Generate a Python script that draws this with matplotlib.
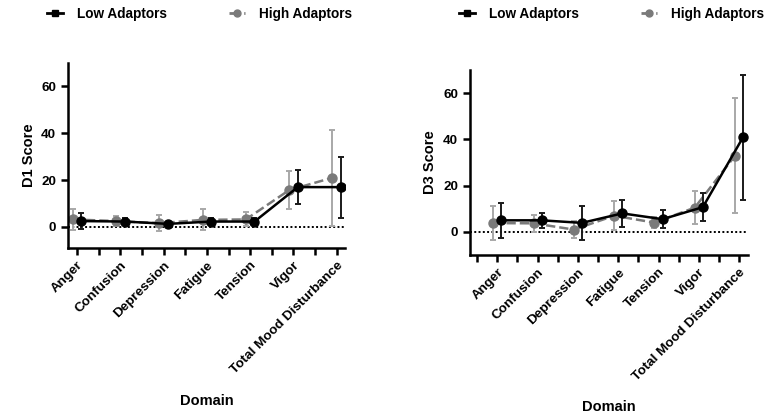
import matplotlib
matplotlib.use("Agg")
import matplotlib.pyplot as plt
from matplotlib.lines import Line2D
import numpy as np

plt.rcParams['font.family'] = ['Liberation Sans', 'DejaVu Sans']
plt.rcParams['font.weight'] = 'bold'

domains = ['Anger', 'Confusion', 'Depression', 'Fatigue', 'Tension', 'Vigor',
           'Total Mood Disturbance']

# D1 scores (mean, error)
d1_low = [2.5, 2.3, 1.3, 2.3, 2.3, 17.0, 17.0]
d1_low_err = [3.5, 1.5, 1.0, 1.5, 1.5, 7.2, 13.0]
d1_high = [3.2, 2.5, 1.6, 3.0, 3.2, 15.7, 21.0]
d1_high_err = [4.3, 2.0, 3.3, 4.5, 3.0, 8.0, 20.5]

# D3 scores (mean, error)
d3_low = [5.0, 5.0, 3.9, 8.0, 5.5, 10.7, 41.0]
d3_low_err = [7.5, 3.3, 7.2, 6.0, 4.0, 6.0, 27.0]
d3_high = [3.8, 3.7, 1.0, 7.0, 4.0, 10.5, 33.0]
d3_high_err = [7.3, 3.7, 3.5, 6.3, 2.5, 7.0, 25.0]

fig = plt.figure(figsize=(7.67, 4.15), dpi=100)
ax1 = fig.add_axes([0.0887, 0.4024, 0.361, 0.4458])
ax2 = fig.add_axes([0.6124, 0.3855, 0.3628, 0.4458])

x = np.arange(len(domains))
off = 0.1


def draw(ax, low, low_err, high, high_err, ylab, xlim, ylim, ticks, lpad):
    ax.axhline(0, ls=(0, (1, 1.2)), color='black', lw=1.4, zorder=0)
    ax.errorbar(x - off, high, yerr=high_err, color='#7a7a7a', ecolor='#a8a8a8',
                ls='--', lw=1.8, marker='o', ms=6.5, capsize=2.5, elinewidth=1.4,
                capthick=1.4, zorder=2)
    ax.errorbar(x + off, low, yerr=low_err, color='black', ecolor='#1a1a1a',
                ls='-', lw=1.8, marker='o', ms=6.5, capsize=2.5, elinewidth=1.4,
                capthick=1.4, zorder=3)
    ax.set_xlim(*xlim)
    ax.set_ylim(*ylim)
    ax.set_yticks([0, 20, 40, 60])
    ax.set_xticks(ticks)
    ax.set_xticklabels([domains[int(t)] if float(t).is_integer() and t >= 0 else ''
                        for t in ticks], rotation=45, ha='right',
                       rotation_mode='anchor', fontsize=9.7, fontweight='bold')
    ax.tick_params(axis='both', direction='out', length=5, width=1.8, labelsize=9.7)
    ax.tick_params(axis='x', pad=3)
    for s in ['top', 'right']:
        ax.spines[s].set_visible(False)
    for s in ['left', 'bottom']:
        ax.spines[s].set_linewidth(1.8)
    ax.set_ylabel(ylab, fontsize=10.5, fontweight='bold')
    ax.set_xlabel('Domain', fontsize=10.5, fontweight='bold', labelpad=lpad)


draw(ax1, d1_low, d1_low_err, d1_high, d1_high_err, 'D1 Score',
     (-0.21, 6.19), (-9, 70), np.arange(0, 6.01, 0.5), 13)
draw(ax2, d3_low, d3_low_err, d3_high, d3_high_err, 'D3 Score',
     (-0.685, 6.22), (-10, 70), np.arange(-0.5, 6.01, 0.5), 12)

handles = [Line2D([], [], color='black', ls='-', lw=2, marker='s', ms=5),
           Line2D([], [], color='#7a7a7a', ls='--', lw=2, marker='o', ms=5)]
labels = ['Low Adaptors', 'High Adaptors']
for ax, cx in [(ax1, 0.26), (ax2, 0.797)]:
    ax.legend(handles, labels, loc='center', bbox_to_anchor=(cx, 0.966),
              bbox_transform=fig.transFigure, ncol=2, frameon=False,
              handlelength=1.2, handletextpad=1.0, columnspacing=4.6,
              prop={'size': 9.8, 'weight': 'bold'})

fig.savefig('out.png', dpi=100, facecolor='white')
